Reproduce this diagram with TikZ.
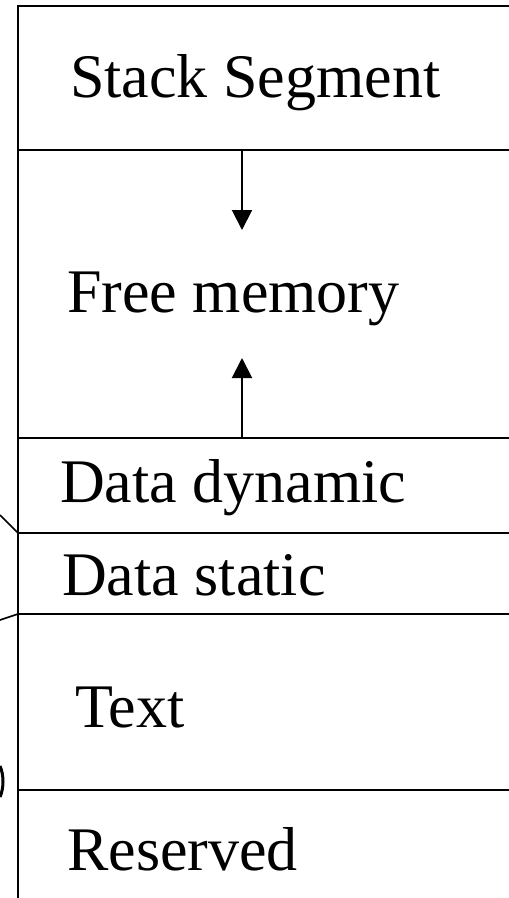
\documentclass[tikz,border=0pt]{standalone}
\usepackage{fontspec}
\setmainfont{Liberation Serif}
\usetikzlibrary{arrows.meta}
\begin{document}
\begin{tikzpicture}[x=1pt,y=-1pt,
  wall/.style={line width=2pt,line cap=rect},
  lbl/.style={anchor=base west,inner sep=0pt,font=\fontsize{62}{62}\selectfont},
  growarrow/.style={line width=2pt,-{Triangle[width=20pt,length=20pt]}}]
\useasboundingbox (0,0) rectangle (509,898);
% outer edge and segment boundaries
\draw[wall] (18,898) -- (18,6) -- (509,6);
\foreach \y in {150,438,533,614,790}
  \draw[wall] (18,\y) -- (509,\y);
% pointers coming in from the left
\draw[line width=1.6pt] (0,515) -- (18,533);
\draw[line width=1.6pt] (0,620) -- (18,614);
\draw[line width=3pt] (0,766) .. controls (4,775) and (4,788) .. (0,797);
% segment labels
\node[lbl] (stack) at (70,97) {Stack Segment};
\node[lbl] (free) at (67,312) {Free memory};
\node[lbl] (dyn) at (60,502) {Data dynamic};
\node[lbl] (stat) at (62,595) {Data static};
\node[lbl] (text) at (75,727) {Text};
\node[lbl] (res) at (67,870) {Reserved};
% growth directions of stack and heap
\coordinate (stackbot) at (242,150);
\coordinate (downtip) at (242,230);
\coordinate (heaptop) at (242,438);
\coordinate (uptip) at (242,358);
\draw[growarrow] (stackbot) -- (downtip);
\draw[growarrow] (heaptop) -- (uptip);
\end{tikzpicture}
\end{document}
